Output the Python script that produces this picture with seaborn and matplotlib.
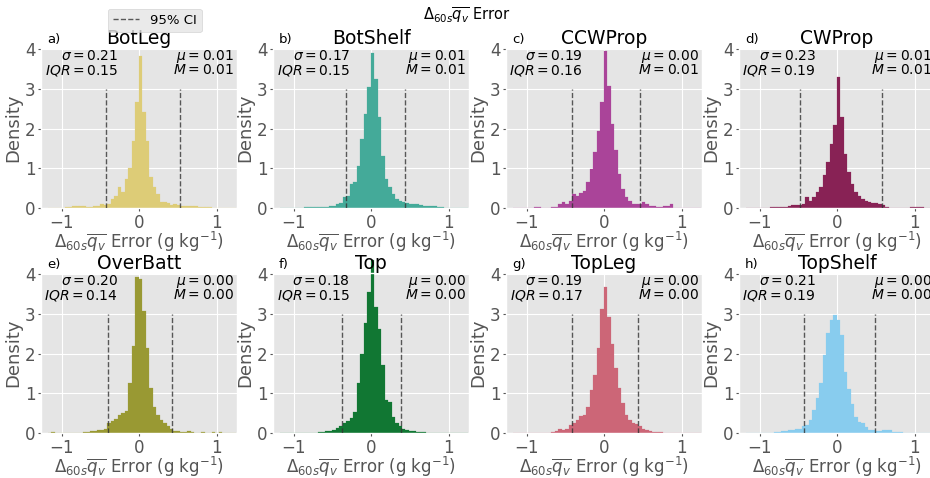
import numpy as np
import pandas as pd
import matplotlib
matplotlib.use("Agg")
import matplotlib.pyplot as plt
import seaborn as sns
from matplotlib.lines import Line2D

plt.style.use("ggplot")

# ---------------- data ----------------
BIN_START = -1.18
BIN_WIDTH = 0.045
N_BINS = 54

names = ["BotLeg", "BotShelf", "CCWProp", "CWProp", "OverBatt", "Top", "TopLeg", "TopShelf"]
letters = ["a)", "b)", "c)", "d)", "e)", "f)", "g)", "h)"]
colors = ["#DDCC77", "#44AA99", "#AA4499", "#882255", "#999933", "#117733", "#CC6677", "#88CCEE"]
sigma = ["0.21", "0.17", "0.19", "0.23", "0.20", "0.18", "0.19", "0.21"]
iqr = ["0.15", "0.15", "0.16", "0.19", "0.14", "0.15", "0.17", "0.19"]
mu = ["0.01", "0.01", "0.00", "0.01", "0.00", "0.00", "0.00", "0.00"]
median = ["0.01", "0.01", "0.01", "0.01", "0.00", "0.00", "0.00", "0.00"]
ci_low = [-0.435, -0.323, -0.418, -0.478, -0.403, -0.385, -0.417, -0.435]
ci_high = [0.526, 0.431, 0.466, 0.578, 0.420, 0.381, 0.434, 0.487]

dens_botleg = [0, 0, 0, 0,
               0, 0.02, 0.03, 0.04, 0.05, 0.05, 0.04, 0.03, 0.03, 0.04,
               0.06, 0.1, 0.08, 0.1, 0.22, 0.3, 0.52, 0.4, 0.73, 1.02,
               1.7, 2.66, 3.84, 2.41, 1.7, 0.77, 0.52, 0.35, 0.14, 0.14,
               0.12, 0.07, 0.1, 0.08, 0.06, 0.06, 0.05, 0.04, 0.04, 0.03,
               0.03, 0.02, 0.02, 0.01, 0, 0, 0, 0,
               0, 0]
dens_botshelf = [0, 0, 0, 0,
                 0, 0, 0.01, 0.02, 0.02, 0.03, 0.02, 0.03, 0.03, 0.03,
                 0.04, 0.05, 0.1, 0.12, 0.27, 0.31, 0.6, 0.65, 1.07, 1.74,
                 2.37, 3.04, 3.9, 3.25, 2.29, 1.32, 0.73, 0.52, 0.35, 0.23,
                 0.17, 0.14, 0.12, 0.1, 0.1, 0.09, 0.07, 0.05, 0.04, 0.04,
                 0.04, 0.03, 0.02, 0.01, 0, 0, 0, 0,
                 0, 0]
dens_ccwprop = [0, 0, 0, 0,
                0, 0, 0.02, 0.02, 0, 0, 0.01, 0.02, 0.03, 0.1,
                0.14, 0.1, 0.18, 0.35, 0.31, 0.38, 0.42, 0.65, 0.98, 1.4,
                1.95, 2.66, 3.95, 3.08, 2.12, 1.45, 0.86, 0.48, 0.27, 0.18,
                0.1, 0.11, 0.1, 0.14, 0.1, 0.05, 0.04, 0.03, 0.03, 0.05,
                0.04, 0.1, 0, 0, 0, 0, 0, 0,
                0, 0]
dens_cwprop = [0, 0, 0, 0,
               0, 0, 0, 0.02, 0.02, 0.03, 0.03, 0.03, 0.05, 0.07,
               0.07, 0.08, 0.1, 0.27, 0.17, 0.27, 0.4, 0.52, 0.82, 1.15,
               1.61, 2.08, 3.31, 2.29, 1.36, 0.9, 0.6, 0.4, 0.31, 0.23,
               0.18, 0.14, 0.12, 0.12, 0.1, 0.07, 0.03, 0.01, 0.01, 0.01,
               0, 0, 0, 0.02, 0.02, 0.02, 0.02, 0,
               0, 0]
dens_overbatt = [0, 0.02, 0, 0,
                 0, 0, 0.01, 0.01, 0.01, 0.01, 0.02, 0.03, 0.05, 0.05,
                 0.07, 0.08, 0.11, 0.24, 0.3, 0.35, 0.45, 0.5, 0.56, 1.26,
                 2.19, 3.93, 3.88, 3.08, 2.15, 1.13, 0.66, 0.45, 0.32, 0.24,
                 0.18, 0.11, 0.05, 0.05, 0.03, 0.03, 0.04, 0.02, 0, 0.01,
                 0.02, 0.01, 0, 0.02, 0.01, 0.02, 0, 0,
                 0, 0]
dens_top = [0, 0, 0, 0,
            0, 0, 0, 0, 0, 0, 0.01, 0.02, 0.03, 0.04,
            0.06, 0.08, 0.12, 0.18, 0.24, 0.3, 0.38, 0.54, 1.26, 1.98,
            2.78, 3.55, 4.35, 3.17, 2.62, 1.72, 0.83, 0.79, 0.41, 0.24,
            0.18, 0.11, 0.08, 0.05, 0.04, 0.03, 0.03, 0.02, 0.01, 0.01,
            0, 0, 0, 0, 0, 0, 0, 0,
            0, 0]
dens_topleg = [0, 0, 0, 0,
               0, 0, 0, 0, 0, 0, 0.01, 0.03, 0.05, 0.11,
               0.07, 0.11, 0.2, 0.24, 0.34, 0.42, 0.45, 0.66, 1.09, 1.47,
               2.15, 3.12, 3.68, 2.91, 2.23, 1.64, 1.13, 0.75, 0.45, 0.32,
               0.25, 0.22, 0.18, 0.11, 0.07, 0.05, 0.03, 0.03, 0.02, 0,
               0, 0, 0, 0, 0, 0, 0, 0,
               0, 0]
dens_topshelf = [0, 0, 0, 0,
                 0, 0, 0.01, 0.01, 0.03, 0.03, 0.05, 0.05, 0.07, 0.07,
                 0.11, 0.11, 0.17, 0.2, 0.32, 0.57, 0.87, 1.25, 1.96, 2.51,
                 2.85, 2.97, 2.85, 2.47, 1.54, 1.12, 0.74, 0.4, 0.28, 0.24,
                 0.15, 0.08, 0.08, 0.05, 0.05, 0.07, 0.08, 0.08, 0.03, 0.02,
                 0.02, 0, 0, 0, 0, 0, 0, 0,
                 0, 0]

densities = [dens_botleg, dens_botshelf, dens_ccwprop, dens_cwprop,
             dens_overbatt, dens_top, dens_topleg, dens_topshelf]

edges = BIN_START + BIN_WIDTH * np.arange(N_BINS + 1)
centers = 0.5 * (edges[:-1] + edges[1:])

# ---------------- figure ----------------
W, H = 930, 478
fig = plt.figure(figsize=(W / 100, H / 100), dpi=100)

col_left = [41, 273, 506, 739]
ax_w = 196
row_top = [48, 273]
ax_h = 160

xlab = r"$\Delta_{60s}\overline{q_v}$ Error (g kg$^{-1}$)"
stat_fs = 10

for k in range(8):
    r, c = divmod(k, 4)
    left = col_left[c] / W
    bottom = (H - row_top[r] - ax_h) / H
    ax = fig.add_axes([left, bottom, ax_w / W, ax_h / H])
    df = pd.DataFrame({"err": centers, "dens": np.asarray(densities[k], dtype=float)})
    sns.histplot(data=df, x="err", weights="dens", bins=list(edges), color=colors[k],
                 alpha=1, ax=ax, linewidth=0.15, edgecolor=colors[k])
    for p in ax.patches:
        p.set_clip_on(False)
    ax.vlines([ci_low[k], ci_high[k]], 0, 3, colors="#333333", linestyles="--",
              linewidth=1, alpha=0.8, zorder=3)
    ax.set_xlim(-1.27, 1.26)
    ax.set_ylim(0, 4.03)
    ax.set_xticks([-1, 0, 1])
    ax.set_xticklabels(["\u22121", "0", "1"])
    ax.set_yticks([0, 1, 2, 3, 4])
    ax.tick_params(labelsize=12, colors="#555555", length=2, pad=2)
    ax.set_ylabel("Density", fontsize=13, color="#555555", labelpad=2)
    ax.set_xlabel(xlab, fontsize=12, color="#555555", labelpad=-1)
    ax.set_title(names[k], fontsize=13.5, color="black", pad=3)
    ax.text(0.03, 1.012, letters[k], transform=ax.transAxes, fontsize=9.5,
            ha="left", va="bottom")
    ax.text(0.393, 0.927, r"$\sigma = %s$" % sigma[k], transform=ax.transAxes,
            ha="right", va="baseline", fontsize=stat_fs)
    ax.text(0.393, 0.836, r"$IQR = %s$" % iqr[k], transform=ax.transAxes,
            ha="right", va="baseline", fontsize=stat_fs)
    ax.text(0.982, 0.927, r"$\mu = %s$" % mu[k], transform=ax.transAxes,
            ha="right", va="baseline", fontsize=stat_fs)
    ax.text(0.982, 0.836, r"$M = %s$" % median[k], transform=ax.transAxes,
            ha="right", va="baseline", fontsize=stat_fs)

fig.text(0.502, 0.988, r"$\Delta_{60s}\overline{q_v}$ Error", ha="center", va="top",
         fontsize=10.5)

handle = Line2D([], [], color="#333333", linestyle="--", linewidth=1, alpha=0.8)
fig.legend([handle], ["95% CI"], loc="upper left",
           bbox_to_anchor=(101 / W, 1 - 2 / H), fontsize=9.5, frameon=True)

fig.savefig("out.png", dpi=100)
